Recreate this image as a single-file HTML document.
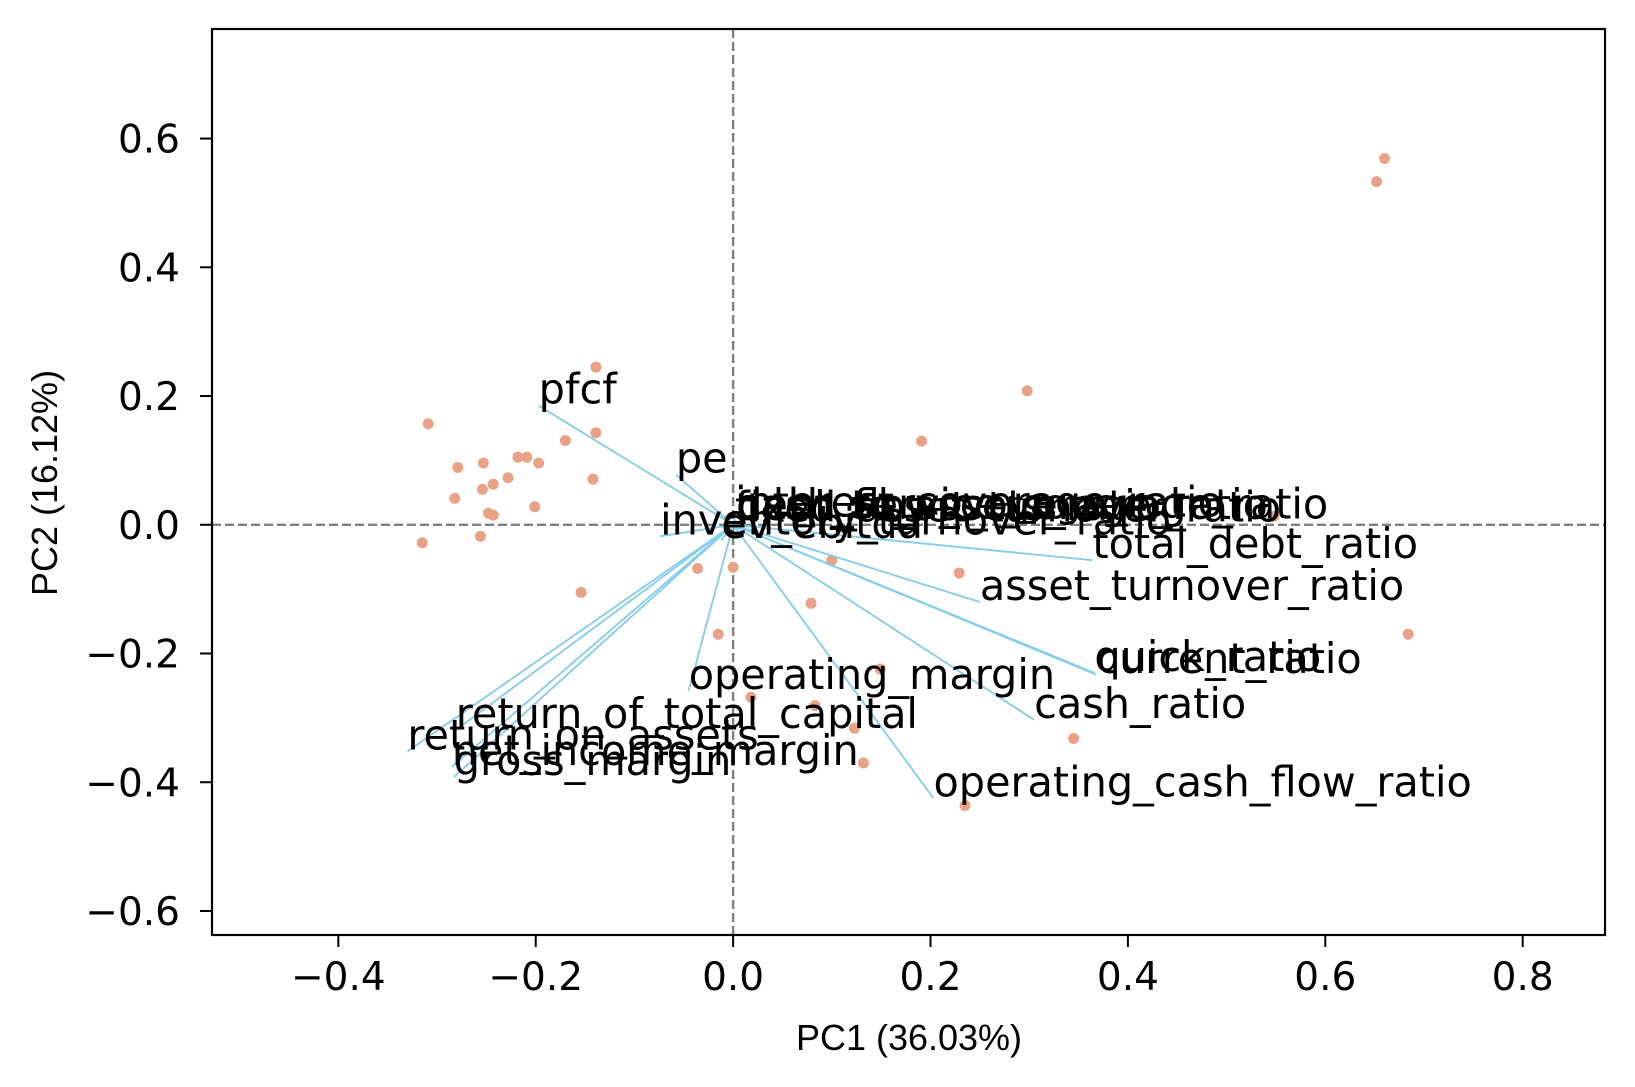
<!DOCTYPE html>
<html><head><meta charset="utf-8"><style>
body{margin:0;background:#fff}
svg{display:block}
</style></head><body>
<svg id="chart" width="1635" height="1087" xmlns="http://www.w3.org/2000/svg">
<rect x="0" y="0" width="1635" height="1087" fill="#fff"/>
<g id="plot"></g>
</svg>
<script>
const pointsX=[-0.139,-0.309,-0.139,-0.170,-0.279,-0.253,-0.218,-0.209,-0.197,-0.228,-0.243,-0.254,-0.142,-0.282,-0.248,-0.243,-0.201,-0.256,-0.315,-0.154,-0.036,0.000,-0.015,0.079,0.100,0.018,0.083,0.149,0.123,0.132,0.235,0.345,0.229,0.191,0.298,0.548,0.652,0.660,0.684];
const pointsY=[0.245,0.157,0.143,0.131,0.089,0.096,0.105,0.105,0.096,0.073,0.063,0.055,0.071,0.041,0.018,0.015,0.028,-0.018,-0.028,-0.105,-0.068,-0.066,-0.170,-0.122,-0.055,-0.268,-0.281,-0.224,-0.316,-0.370,-0.436,-0.332,-0.075,0.130,0.208,0.013,0.533,0.569,-0.170];
const loadNames=["pfcf","pe","inventory_turnover_ratio","ev_ebitda","interest_coverage_ratio","debt_to_assets_ratio","cash_flow_coverage_ratio","fixed_asset_turnover_ratio","debt_service_coverage_ratio","total_debt_ratio","asset_turnover_ratio","quick_ratio","current_ratio","cash_ratio","operating_cash_flow_ratio","operating_margin","return_on_assets","return_of_total_capital","net_income_margin","gross_margin"];
const loadX=[-0.197,-0.058,-0.074,-0.012,0.002,0.003,0.004,0.002,0.003,0.364,0.250,0.366,0.368,0.305,0.203,-0.045,-0.330,-0.281,-0.285,-0.283];
const loadY=[0.185,0.078,-0.018,-0.024,0.010,0.004,0.006,0.002,0.007,-0.055,-0.120,-0.230,-0.233,-0.303,-0.425,-0.258,-0.352,-0.319,-0.376,-0.392];
const xTicks=[-0.4,-0.2,0.0,0.2,0.4,0.6,0.8];
const yTicks=[-0.6,-0.4,-0.2,0.0,0.2,0.4,0.6];
const xTickLabels=["\u22120.4","\u22120.2","0.0","0.2","0.4","0.6","0.8"];
const yTickLabels=["\u22120.6","\u22120.4","\u22120.2","0.0","0.2","0.4","0.6"];

const L=212,R=1605,T=29,B=935;
const xMin=-0.528,xMax=0.8834,yMin=-0.6373,yMax=0.7702;
const sx=v=>L+(v-xMin)/(xMax-xMin)*(R-L);
const sy=v=>B-(v-yMin)/(yMax-yMin)*(B-T);
const NS="http://www.w3.org/2000/svg";
const g=document.getElementById('plot');
function mk(tag,attrs,parent){const e=document.createElementNS(NS,tag);for(const k in attrs)e.setAttribute(k,attrs[k]);(parent||g).appendChild(e);return e;}

let e=mk('line',{x1:L,x2:R,y1:sy(0),y2:sy(0),stroke:'#808080','stroke-width':2.4,'stroke-dasharray':'9,4'});


e=mk('line',{x1:sx(0),x2:sx(0),y1:T,y2:B,stroke:'#808080','stroke-width':2.4,'stroke-dasharray':'9,4'});



pointsX.forEach((v,i)=>{
  const c=mk('circle',{cx:sx(v),cy:sy(pointsY[i]),r:5.5,fill:'#E9A286'});
  
  
});

loadX.forEach((v,i)=>{
  const a=mk('line',{x1:sx(0),y1:sy(0),x2:sx(v),y2:sy(loadY[i]),stroke:'#87CEEB','stroke-width':1.9});
  
  
});
loadX.forEach((v,i)=>{
  const t=mk('text',{x:sx(v),y:sy(loadY[i])-2,'font-family':'DejaVu Sans, Liberation Sans, sans-serif','font-size':41.4,fill:'#000'});
  t.textContent=loadNames[i];
  
  
});

e=mk('rect',{x:L,y:T,width:R-L,height:B-T,fill:'none',stroke:'#000','stroke-width':2.2});



xTicks.forEach((v,i)=>{
  const tk=mk('line',{x1:sx(v),x2:sx(v),y1:B,y2:B+12,stroke:'#000','stroke-width':2});
  
  
  const t=mk('text',{x:sx(v),y:B+55,'text-anchor':'middle','font-family':'DejaVu Sans, sans-serif','font-size':39});
  t.textContent=xTickLabels[i];
  
  
});
yTicks.forEach((v,i)=>{
  const tk=mk('line',{x1:L-12,x2:L,y1:sy(v),y2:sy(v),stroke:'#000','stroke-width':2});
  
  
  const t=mk('text',{x:L-32,y:sy(v)+14,'text-anchor':'end','font-family':'DejaVu Sans, sans-serif','font-size':39});
  t.textContent=yTickLabels[i];
  
  
});

e=mk('text',{x:909,y:1050,'text-anchor':'middle','font-family':'Liberation Sans, sans-serif','font-size':36});
e.textContent='PC1 (36.03%)';


e=mk('text',{x:0,y:0,'text-anchor':'middle','font-family':'Liberation Sans, sans-serif','font-size':36,transform:'translate(57,483) rotate(-90)'});
e.textContent='PC2 (16.12%)';


</script>
</body></html>
